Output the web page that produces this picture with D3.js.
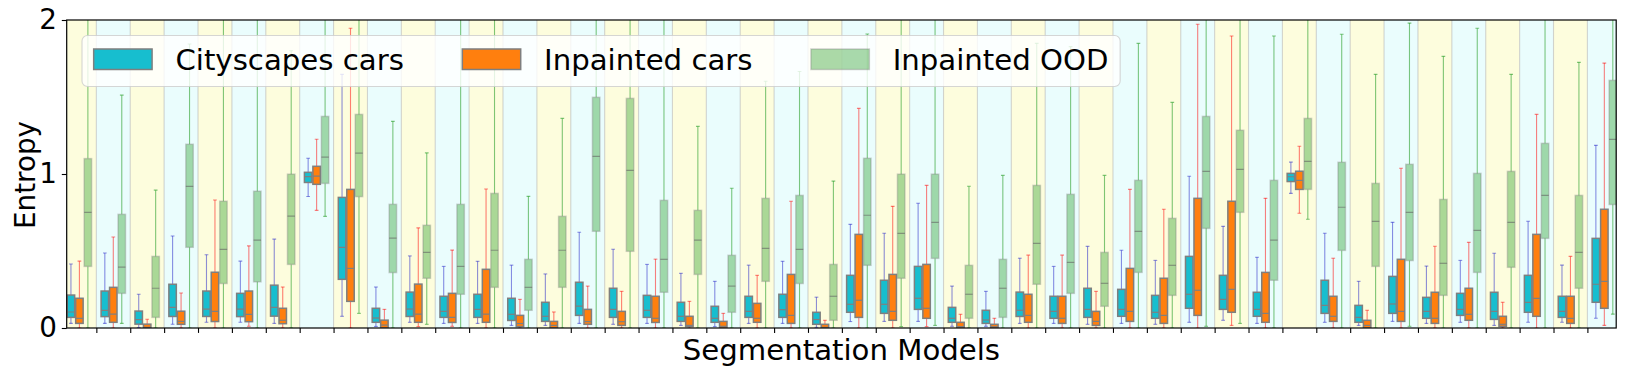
<!DOCTYPE html>
<html>
<head>
<meta charset="utf-8">
<script src="https://cdn.jsdelivr.net/npm/d3@7"></script>
<style>
  body { margin: 0; background: #fff; }
  svg { display: block; font-family: "DejaVu Sans", sans-serif; }
</style>
</head>
<body>
<svg id="chart" width="1626" height="376"></svg>
<script>
// one entry per segmentation model: [whisker low, q1, median, q3, whisker high]
const cityscapesCars = [
  [0.03, 0.069, 0.104, 0.214, 0.416], [0.03, 0.074, 0.115, 0.240, 0.487], [0.003, 0.025, 0.054, 0.110, 0.219],
  [0.024, 0.075, 0.134, 0.284, 0.597], [0.037, 0.075, 0.123, 0.240, 0.476], [0.037, 0.074, 0.122, 0.225, 0.434],
  [0.03, 0.077, 0.134, 0.278, 0.577], [0.854, 0.945, 0.983, 1.011, 1.102], [0.076, 0.316, 0.524, 0.848, 1.647],
  [0.010, 0.037, 0.065, 0.128, 0.266], [0.037, 0.075, 0.123, 0.233, 0.468], [0.03, 0.069, 0.108, 0.206, 0.40],
  [0.03, 0.069, 0.121, 0.219, 0.433], [0.017, 0.049, 0.089, 0.193, 0.408], [0.017, 0.043, 0.076, 0.167, 0.351],
  [0.03, 0.082, 0.142, 0.297, 0.622], [0.024, 0.069, 0.121, 0.258, 0.511], [0.03, 0.069, 0.115, 0.212, 0.413],
  [0.017, 0.043, 0.076, 0.167, 0.355], [0.009, 0.037, 0.063, 0.141, 0.303], [0.03, 0.069, 0.108, 0.206, 0.408],
  [0.03, 0.069, 0.119, 0.219, 0.433], [0.004, 0.024, 0.055, 0.102, 0.200], [0.042, 0.102, 0.154, 0.342, 0.673],
  [0.043, 0.095, 0.154, 0.310, 0.615], [0.043, 0.121, 0.193, 0.400, 0.810], [0.011, 0.037, 0.063, 0.134, 0.272],
  [0.011, 0.03, 0.052, 0.115, 0.238], [0.03, 0.075, 0.115, 0.233, 0.453], [0.03, 0.063, 0.108, 0.206, 0.40],
  [0.024, 0.069, 0.121, 0.258, 0.530], [0.03, 0.076, 0.121, 0.251, 0.505], [0.024, 0.063, 0.102, 0.212, 0.439],
  [0.037, 0.128, 0.219, 0.465, 0.985], [0.05, 0.121, 0.186, 0.342, 0.660], [0.03, 0.076, 0.121, 0.232, 0.459],
  [0.874, 0.951, 0.982, 1.004, 1.077], [0.037, 0.095, 0.147, 0.310, 0.615], [0.017, 0.037, 0.069, 0.147, 0.303],
  [0.043, 0.095, 0.156, 0.335, 0.686], [0.03, 0.063, 0.108, 0.199, 0.402], [0.037, 0.082, 0.121, 0.225, 0.439],
  [0.017, 0.056, 0.108, 0.232, 0.485], [0.037, 0.102, 0.167, 0.342, 0.693], [0.037, 0.069, 0.108, 0.206, 0.408],
  [0.063, 0.167, 0.284, 0.582, 1.186]
];

const inpaintedCars = [
  [0.0, 0.03, 0.063, 0.193, 0.434], [0.0, 0.037, 0.090, 0.264, 0.591], [0.0, 0.0, 0.004, 0.025, 0.057],
  [0.0, 0.024, 0.043, 0.109, 0.227], [0.0, 0.042, 0.108, 0.362, 0.831], [0.011, 0.041, 0.089, 0.240, 0.533],
  [0.0, 0.028, 0.050, 0.128, 0.266], [0.764, 0.933, 0.986, 1.05, 1.226], [0.0, 0.173, 0.387, 0.900, 1.946],
  [0.0, 0.0, 0.019, 0.051, 0.121], [0.009, 0.037, 0.090, 0.285, 0.650], [0.011, 0.036, 0.069, 0.225, 0.506],
  [0.0, 0.037, 0.090, 0.381, 0.903], [0.0, 0.009, 0.029, 0.082, 0.186], [0.0, 0.0, 0.017, 0.043, 0.104],
  [0.0, 0.024, 0.042, 0.121, 0.272], [0.0, 0.017, 0.041, 0.108, 0.238], [0.0, 0.036, 0.063, 0.206, 0.447],
  [0.0, 0.009, 0.017, 0.076, 0.173], [0.0, 0.0, 0.011, 0.043, 0.095], [0.0, 0.037, 0.063, 0.160, 0.342],
  [0.0, 0.03, 0.082, 0.348, 0.823], [0.0, 0.0, 0.004, 0.024, 0.05], [0.0, 0.069, 0.180, 0.608, 1.426],
  [0.0, 0.05, 0.108, 0.348, 0.790], [0.009, 0.063, 0.128, 0.413, 0.926], [0.0, 0.0, 0.009, 0.037, 0.089],
  [0.0, 0.0, 0.008, 0.024, 0.063], [0.0, 0.037, 0.082, 0.219, 0.473], [0.0, 0.03, 0.063, 0.206, 0.473],
  [0.0, 0.017, 0.043, 0.108, 0.238], [0.0, 0.043, 0.108, 0.387, 0.900], [0.0, 0.03, 0.082, 0.323, 0.771],
  [0.0, 0.082, 0.245, 0.842, 1.972], [0.017, 0.102, 0.251, 0.823, 1.896], [0.0, 0.037, 0.095, 0.361, 0.842],
  [0.745, 0.900, 0.959, 1.018, 1.180], [0.0, 0.043, 0.076, 0.206, 0.453], [0.0, 0.0, 0.017, 0.05, 0.115],
  [0.0, 0.043, 0.108, 0.446, 1.037], [0.0, 0.03, 0.063, 0.232, 0.531], [0.0, 0.05, 0.089, 0.258, 0.556],
  [0.0, 0.011, 0.024, 0.076, 0.167], [0.0, 0.076, 0.193, 0.608, 1.387], [0.0, 0.03, 0.063, 0.206, 0.465],
  [0.017, 0.128, 0.303, 0.771, 1.720]
];

const inpaintedOOD = [
  [0.0, 0.40, 0.751, 1.10, 2.3], [0.03, 0.225, 0.395, 0.738, 1.512], [0.0, 0.069, 0.258, 0.465, 0.895],
  [0.0, 0.524, 0.920, 1.193, 1.844], [0.0, 0.289, 0.511, 0.823, 2.2], [0.0, 0.300, 0.570, 0.888, 2.3],
  [0.0, 0.413, 0.727, 0.999, 1.80], [0.725, 0.939, 1.109, 1.374, 2.4], [0.095, 0.853, 1.135, 1.387, 2.5],
  [0.0, 0.360, 0.583, 0.803, 1.342], [0.024, 0.323, 0.491, 0.667, 1.137], [0.0, 0.219, 0.40, 0.803, 2.2],
  [0.0, 0.264, 0.505, 0.874, 2.3], [0.0, 0.115, 0.264, 0.446, 0.855], [0.0, 0.264, 0.505, 0.725, 1.361],
  [0.0, 0.628, 1.115, 1.498, 2.6], [0.0, 0.498, 1.024, 1.491, 2.6], [0.0, 0.232, 0.446, 0.829, 2.1],
  [0.0, 0.348, 0.570, 0.764, 1.309], [0.0, 0.102, 0.272, 0.472, 0.907], [0.0, 0.303, 0.517, 0.842, 1.602],
  [0.0, 0.289, 0.511, 0.861, 1.666], [0.0, 0.05, 0.206, 0.413, 0.954], [0.0, 0.407, 0.732, 1.102, 1.909],
  [0.009, 0.323, 0.615, 0.999, 2.2], [0.017, 0.452, 0.686, 0.999, 2.3], [0.0, 0.063, 0.219, 0.407, 0.920],
  [0.0, 0.069, 0.258, 0.446, 0.991], [0.0, 0.284, 0.550, 0.926, 1.848], [0.0, 0.225, 0.426, 0.868, 1.827],
  [0.0, 0.141, 0.290, 0.491, 0.991], [0.0, 0.361, 0.628, 0.959, 1.848], [0.0, 0.212, 0.407, 0.712, 1.465],
  [0.011, 0.647, 1.017, 1.374, 2.5], [0.03, 0.751, 1.030, 1.284, 2.4], [0.0, 0.310, 0.570, 0.959, 1.896],
  [0.706, 0.900, 1.082, 1.361, 2.3], [0.0, 0.504, 0.784, 1.076, 1.907], [0.0, 0.40, 0.693, 0.939, 1.647],
  [0.011, 0.438, 0.751, 1.063, 1.980], [0.0, 0.212, 0.420, 0.835, 1.764], [0.0, 0.361, 0.634, 1.004, 1.946],
  [0.0, 0.394, 0.686, 1.017, 1.647], [0.0, 0.582, 0.861, 1.199, 2.3], [0.0, 0.258, 0.491, 0.861, 1.725],
  [0.090, 0.802, 1.225, 1.608, 2.6]
];

const seriesNames = ["Cityscapes cars", "Inpainted cars", "Inpainted OOD"];
const yTicks = [0, 1, 2];

const nModels = cityscapesCars.length;
const fs = 27.8;        // tick labels, y label
const fsBig = 29.2;     // legend, x label
const plotLeft = 66.7, plotRight = 1616.2, plotTop = 20, plotBottom = 328;

const svg = d3.select("#chart");

const x = d3.scaleLinear().domain([-0.375, nModels - 0.65]).range([plotLeft, plotRight]);
const y = d3.scaleLinear().domain([0, 2]).range([plotBottom, plotTop]);
const unit = x(1) - x(0);

const series = [
  { name: seriesNames[0], data: cityscapesCars, offset: -0.25, fill: "#17becf", edge: "#7f7f7f",
    median: "#7f7f7f", whisker: "rgba(30,30,200,0.5)" },
  { name: seriesNames[1], data: inpaintedCars, offset: 0, fill: "#ff7f0e", edge: "#7f7f7f",
    median: "#7f7f7f", whisker: "rgba(255,0,0,0.5)" },
  { name: seriesNames[2], data: inpaintedOOD, offset: 0.25, fill: "rgba(44,160,44,0.4)", edge: "rgba(127,127,127,0.35)",
    median: "rgba(100,100,100,0.6)", whisker: "rgba(44,160,44,0.6)" }
];

svg.append("clipPath").attr("id", "plot-clip").append("rect")
  .attr("x", plotLeft).attr("y", plotTop)
  .attr("width", plotRight - plotLeft).attr("height", plotBottom - plotTop);

const plot = svg.append("g").attr("clip-path", "url(#plot-clip)");

// alternating background stripes, one per model
plot.selectAll("rect.stripe")
  .data(d3.range(nModels))
  .join("rect")
  .attr("class", "stripe")
  .attr("x", i => x(i - 0.5))
  .attr("width", unit)
  .attr("y", plotTop)
  .attr("height", plotBottom - plotTop)
  .attr("fill", i => i % 2 ? "#eafdfd" : "#fdfddd");

const boundaries = d3.range(nModels - 1).map(i => i + 0.5);

plot.selectAll("line.grid")
  .data(boundaries)
  .join("line")
  .attr("class", "grid")
  .attr("x1", d => x(d)).attr("x2", d => x(d))
  .attr("y1", plotTop).attr("y2", plotBottom)
  .attr("stroke", "rgba(176,176,176,0.55)")
  .attr("stroke-width", 1.1);

// box plots
const boxHalf = 0.11 * unit, capHalf = 0.055 * unit;

series.forEach(s => {
  const items = plot.append("g")
    .selectAll("g")
    .data(s.data.map((v, i) => ({ i, v })))
    .join("g");
  const cx = d => x(d.i + s.offset);

  [[0, 1], [3, 4]].forEach(([a, b]) => {
    items.append("line")
      .attr("x1", cx).attr("x2", cx)
      .attr("y1", d => y(d.v[a])).attr("y2", d => y(d.v[b]))
      .attr("stroke", s.whisker).attr("stroke-width", 1.1);
  });
  [0, 4].forEach(k => {
    items.append("line")
      .attr("x1", d => cx(d) - capHalf).attr("x2", d => cx(d) + capHalf)
      .attr("y1", d => y(d.v[k])).attr("y2", d => y(d.v[k]))
      .attr("stroke", s.whisker).attr("stroke-width", 1.1);
  });
  items.append("rect")
    .attr("x", d => cx(d) - boxHalf)
    .attr("width", 2 * boxHalf)
    .attr("y", d => y(d.v[3]))
    .attr("height", d => Math.max(0.5, y(d.v[1]) - y(d.v[3])))
    .attr("fill", s.fill)
    .attr("stroke", s.edge)
    .attr("stroke-width", 1.5);
  items.append("line")
    .attr("x1", d => cx(d) - boxHalf).attr("x2", d => cx(d) + boxHalf)
    .attr("y1", d => y(d.v[2])).attr("y2", d => y(d.v[2]))
    .attr("stroke", s.median).attr("stroke-width", 1.2);
});

// axes
const yAxis = svg.append("g")
  .attr("transform", `translate(${plotLeft},0)`)
  .call(d3.axisLeft(y).tickValues(yTicks).tickFormat(d3.format("d")).tickSize(4.9).tickPadding(4.9));
yAxis.select(".domain").remove();
yAxis.attr("font-family", null).attr("font-size", fs);
yAxis.selectAll("line").attr("stroke", "#000").attr("stroke-width", 1.1);
yAxis.selectAll("text").attr("fill", "#000");

const xAxis = svg.append("g")
  .attr("transform", `translate(0,${plotBottom})`)
  .call(d3.axisBottom(x).tickValues(boundaries).tickFormat("").tickSize(4.9));
xAxis.select(".domain").remove();
xAxis.selectAll("line").attr("stroke", "#000").attr("stroke-width", 1.1);

svg.append("rect")
  .attr("x", plotLeft).attr("y", plotTop)
  .attr("width", plotRight - plotLeft).attr("height", plotBottom - plotTop)
  .attr("fill", "none").attr("stroke", "#000").attr("stroke-width", 1.2);

svg.append("text")
  .attr("transform", `translate(34.5,${(plotTop + plotBottom) / 2 + 1}) rotate(-90)`)
  .attr("text-anchor", "middle")
  .attr("font-size", fs)
  .text("Entropy");

svg.append("text")
  .attr("x", (plotLeft + plotRight) / 2)
  .attr("y", 360)
  .attr("text-anchor", "middle")
  .attr("font-size", fsBig)
  .text("Segmentation Models");

// legend, spaced like matplotlib (handle 2em, pad 0.8em, column gap 2em)
const legendX = 82, legendY = 35.5, legendH = 51;
const pad = 0.4 * fsBig, handleW = 2 * fsBig, textPad = 0.8 * fsBig, colGap = 2 * fsBig;
const legend = svg.append("g");
const legendBox = legend.append("rect")
  .attr("x", legendX).attr("y", legendY)
  .attr("height", legendH)
  .attr("rx", 5.5)
  .attr("fill", "rgba(255,255,255,0.8)")
  .attr("stroke", "rgba(204,204,204,0.8)")
  .attr("stroke-width", 1.1);

let cursor = legendX + pad;
series.forEach((s, k) => {
  if (k > 0) cursor += colGap;
  legend.append("rect")
    .attr("x", cursor).attr("y", legendY + 13.5)
    .attr("width", handleW).attr("height", 20.5)
    .attr("fill", s.fill)
    .attr("stroke", s.edge)
    .attr("stroke-width", 1.5);
  cursor += handleW + textPad;
  const t = legend.append("text")
    .attr("x", cursor).attr("y", legendY + 34)
    .attr("font-size", fsBig)
    .text(s.name);
  cursor += t.node().getComputedTextLength();
});
legendBox.attr("width", cursor + pad - legendX);
</script>
</body>
</html>
